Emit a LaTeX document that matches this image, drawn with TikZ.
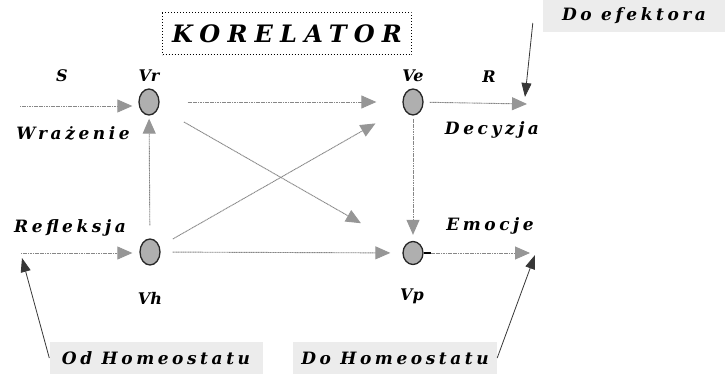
\documentclass[tikz,border=0pt]{standalone}
\usepackage{fontspec}
\setmainfont{DejaVu Serif}
\newfontfamily\spaced[LetterSpace=21]{DejaVu Serif}
\newfontfamily\wide[LetterSpace=30]{DejaVu Serif}
\usetikzlibrary{shapes.geometric, arrows.meta, positioning, calc}
\definecolor{cLine}{RGB}{135,135,135}
\definecolor{cTip}{RGB}{150,150,150}
\definecolor{cDark}{RGB}{55,55,55}
\definecolor{cNode}{RGB}{175,175,175}
\definecolor{cShade}{RGB}{236,236,236}
\tikzset{
	neuron/.style={ellipse, draw=black!85, line width=1.3pt, fill=cNode, minimum width=20pt, minimum height=26pt, inner sep=0pt},
	lbl/.style   ={font=\fontsize{16}{19}\selectfont\bfseries\itshape, inner sep=0pt},
	slbl/.style  ={font=\fontsize{17}{20}\spaced\bfseries\itshape, inner sep=0pt},
	shade/.style ={fill=cShade, minimum height=32pt, inner sep=0pt, font=\fontsize{17}{20}\spaced\bfseries\itshape},
	% dotted grey signal lines and solid dark outside lines
	sig/.style   ={draw=cLine, dash pattern=on 1.2pt off 0.5pt, line width=0.9pt, -{Triangle[length=15pt, width=13pt, color=cTip]}},
	ext/.style   ={draw=cDark, line width=0.8pt, -{Triangle[length=14pt, width=10pt, color=cDark]}},
}
\begin{document}
\begin{tikzpicture}[x=1pt, y=-1pt]
	\useasboundingbox (0,0) rectangle (725,374);
	% title
	\node[draw, dotted, line width=1pt, minimum width=249pt, minimum height=42pt, inner sep=0pt,
		font=\fontsize{24}{28}\wide\bfseries\itshape] (title) at (287,34) {KORELATOR};
	% the four centres
	\node[neuron] (vr) at (149,102) {};
	\node[neuron] (ve) at (413,102) {};
	\node[neuron] (vh) at (150,252) {};
	\node[neuron, minimum height=23pt] (vp) at (413,253) {};
	\node[lbl] at (149,76) {Vr};
	\node[lbl] at (413,76) {Ve};
	\node[lbl] at (150,298) {Vh};
	\node[lbl] at (412,296) {Vp};
	\node[lbl] at (62,76) {S};
	\node[lbl] at (489,77) {R};
	\node[slbl] at (73,133) {Wrażenie};
	\node[slbl] at (492,130) {Decyzja};
	\node[slbl] at (70,228) {Refleksja};
	\node[slbl] at (490,226) {Emocje};
	% shaded outside labels
	\node[shade, minimum width=213pt] (od) at (156,358) {Od Homeostatu};
	\node[shade, minimum width=204pt] (doh) at (395,358) {Do Homeostatu};
	\node[shade, minimum width=182pt] (def) at (634,16) {Do efektora};
	\coordinate (sIn) at (20,106);
	\coordinate (rIn) at (21,253);
	\coordinate (rOut) at (527,104);
	\coordinate (eOut) at (530,253);
	% inputs
	\draw[sig, shorten >=6pt] (sIn) -- (sIn -| vr.west);
	\draw[sig, shorten >=7pt] (rIn) -- (rIn -| vh.west);
	% inside the correlator
	\draw[sig, shorten <=13pt, shorten >=3pt] (vh) -- (vr);
	\draw[sig, shorten <=28pt, shorten >=26pt] (vr) -- (ve);
	\draw[sig, shorten <=29pt, shorten >=49pt] (vr) -- (vp);
	\draw[sig, shorten <=15pt, shorten >=32pt] (vh) -- (ve);
	\draw[sig, shorten <=12pt, shorten >=12pt] (vh) -- (vp);
	\draw[sig, shorten <=3pt, shorten >=6pt] (ve) -- (vp);
	% outputs
	\draw[sig, shorten <=6pt] (ve) -- (rOut);
	\draw[line width=1.2pt] (vp.east) -- ++(7,0) coordinate (vpStub);
	\draw[sig] (vpStub) -- (eOut);
	\draw[ext] ($(def.west)+(-10,7)$) -- ($(rOut)+(-2,-7)$);
	\draw[ext] (od.west) -- ($(rIn)+(1,5)$);
	\draw[ext] (doh.east) -- ($(eOut)+(5,2)$);
\end{tikzpicture}
\end{document}
